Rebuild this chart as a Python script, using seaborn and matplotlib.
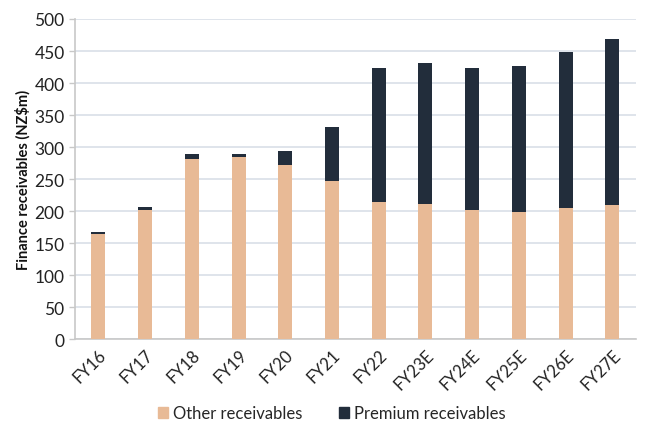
import pandas as pd
import matplotlib.pyplot as plt
import seaborn as sns
from matplotlib.patches import Patch

# Data (NZ$m)
years = ['FY16', 'FY17', 'FY18', 'FY19', 'FY20', 'FY21', 'FY22',
         'FY23E', 'FY24E', 'FY25E', 'FY26E', 'FY27E']
other_receivables = [164, 202, 282, 284, 272, 247, 214, 211, 202, 199, 205, 209]
premium_receivables = [3, 5, 7, 5, 21, 84, 209, 221, 221, 228, 243, 260]

OTHER_COLOR = '#E8BA96'
PREMIUM_COLOR = '#222D3B'
GRID_COLOR = '#D9DFE8'
SPINE_COLOR = '#C8C8C8'


def main():
    df = pd.DataFrame({
        'year': years,
        'other': other_receivables,
        'premium': premium_receivables,
    })
    df['total'] = df['other'] + df['premium']

    sns.set_theme(style='white')
    plt.rcParams['font.family'] = ['Lato', 'DejaVu Sans']

    fig = plt.figure(figsize=(6.5, 4.31), dpi=100)
    ax = fig.add_axes([0.1154, 0.2111, 0.8626, 0.7425])

    # stacked look: total bar (premium colour) underneath, other bar on top
    sns.barplot(data=df, x='year', y='total', color=PREMIUM_COLOR,
                width=0.3, saturation=1, ax=ax, zorder=3, linewidth=0)
    sns.barplot(data=df, x='year', y='other', color=OTHER_COLOR,
                width=0.3, saturation=1, ax=ax, zorder=4, linewidth=0)

    ax.set_ylim(0, 500)
    ax.set_yticks(range(0, 501, 50))
    ax.set_xlim(-0.5, len(years) - 0.5)
    ax.yaxis.grid(True, color=GRID_COLOR, linewidth=1.2, zorder=0)
    ax.set_axisbelow(True)

    for side in ['top', 'right']:
        ax.spines[side].set_visible(False)
    for side in ['left', 'bottom']:
        ax.spines[side].set_color(SPINE_COLOR)
        ax.spines[side].set_linewidth(1.2)

    # ticks between categories on the x axis
    ax.set_xticks([i - 0.5 for i in range(len(years) + 1)], minor=True)
    ax.tick_params(axis='x', which='minor', length=5, color=SPINE_COLOR,
                   width=1, direction='out')
    ax.tick_params(axis='x', which='major', length=0, labelsize=12,
                   labelcolor='#222222', pad=5)
    ax.tick_params(axis='y', length=4, color=SPINE_COLOR, width=1,
                   direction='out', labelsize=12.5, labelcolor='#222222', left=True)
    plt.setp(ax.get_xticklabels(), rotation=45, ha='right',
             rotation_mode='anchor')

    ax.set_xlabel('')
    ax.set_ylabel('Finance receivables (NZ$m)', fontsize=10.5,
                  fontweight='bold', color='#111111', labelpad=3)

    handles = [Patch(color=OTHER_COLOR, label='Other receivables'),
               Patch(color=PREMIUM_COLOR, label='Premium receivables')]
    fig.legend(handles=handles, loc='lower center', ncol=2, frameon=False,
               bbox_to_anchor=(0.51, -0.015), fontsize=12,
               handlelength=0.6, handleheight=0.6, handletextpad=0.3,
               columnspacing=2.2)

    fig.savefig('out.png', dpi=100)


if __name__ == "__main__":
    main()
